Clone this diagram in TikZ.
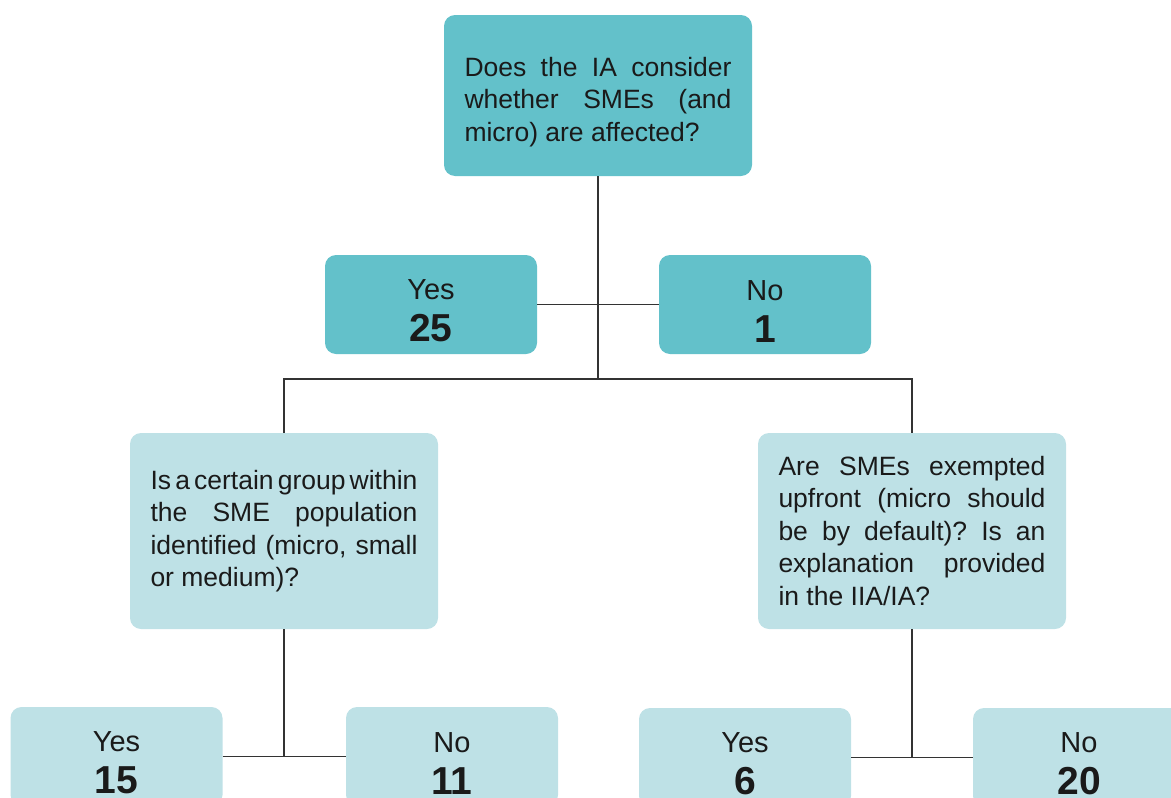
\documentclass[tikz,border=0pt]{standalone}
\usepackage{fontspec}
\setmainfont{Liberation Sans}
\definecolor{darkteal}{HTML}{63C1CA}
\definecolor{lightteal}{HTML}{BEE1E6}
\definecolor{txt}{HTML}{1A1A1A}
\definecolor{ln}{HTML}{333333}
\hyphenpenalty=10000
\exhyphenpenalty=10000
\frenchspacing
\tikzset{
  box/.style={rounded corners=11pt, inner sep=0pt, text=txt},
  qbox/.style={box, minimum width=308pt, text width=267pt, align=justify,
     font=\fontsize{26.5}{32.5}\selectfont},
  abox/.style={box, minimum width=212pt, minimum height=99pt, align=center,
     font=\fontsize{29}{42}\selectfont},
  conn/.style={draw=ln, line width=1.8pt},
}
\newcommand{\ans}[2]{\rule{0pt}{33pt}#1\\{\fontsize{39}{42}\selectfont\bfseries #2}}
\begin{document}
\begin{tikzpicture}[x=1pt,y=-1pt]
\useasboundingbox (0,0) rectangle (1171,798);
\clip (0,0) rectangle (1171,798);
% top question
\node[qbox, fill=darkteal, minimum height=161pt] (top) at (598,95.5)
  {\rule{0pt}{32pt}Does the IA consider whether SMEs (and micro) are affected?};
\node[abox, fill=darkteal] (yes1) at (431,304.5) {\ans{Yes}{25}};
\node[abox, fill=darkteal] (no1) at (765,304.5) {\ans{No}{1}};
% second level
\node[qbox, fill=lightteal, minimum height=196pt] (q1) at (284,531)
  {\spaceskip=0.278em plus 0.6em minus 0.16em Is a certain group within the SME population identified (micro, small or medium)?};
\node[qbox, fill=lightteal, minimum height=196pt] (q2) at (912,531)
  {Are SMEs exempted upfront (micro should be by default)? Is an explanation provided in the IIA/IA?};
% bottom answers
\node[abox, fill=lightteal] (yes2) at (116.5,756.5) {\ans{Yes}{15}};
\node[abox, fill=lightteal] (no2) at (452,756.5) {\ans{No}{11}};
\node[abox, fill=lightteal] (yes3) at (745,757.5) {\ans{Yes}{6}};
\node[abox, fill=lightteal] (no3) at (1079,757.5) {\ans{No}{20}};
% connectors
\coordinate (hub) at (598,379);
\draw[conn] (top.south) -- (hub);
\draw[conn] (yes1.east) -- (no1.west);
\draw[conn] (q1.north) |- (hub) -| (q2.north);
\draw[conn] (q1.south) -- (q1.south |- yes2.east);
\draw[conn] (yes2.east) -- (no2.west);
\draw[conn] (q2.south) -- (q2.south |- yes3.east);
\draw[conn] (yes3.east) -- (no3.west);
\end{tikzpicture}
\end{document}
